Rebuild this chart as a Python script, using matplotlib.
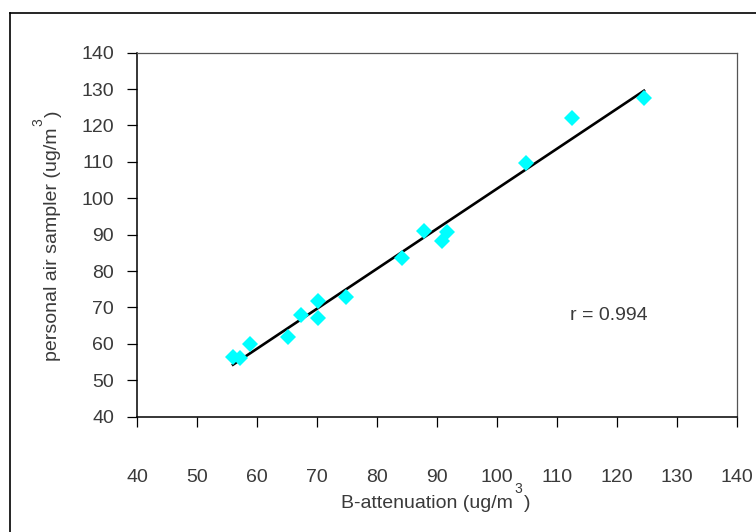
import numpy as np
import matplotlib
matplotlib.use("Agg")
import matplotlib.pyplot as plt
from matplotlib.lines import Line2D
from matplotlib.transforms import IdentityTransform

plt.rcParams["font.family"] = ["Liberation Sans", "DejaVu Sans"]

# paired readings: beta-attenuation monitor vs personal air sampler (ug/m3)
b_attenuation = [56.0, 57.2, 58.8, 65.2, 67.3, 70.1, 70.1, 74.8,
                 84.1, 87.8, 91.6, 90.8, 104.8, 112.5, 124.5]
personal_sampler = [56.3, 56.0, 59.9, 61.8, 67.9, 71.8, 67.2, 73.0,
                    83.7, 91.0, 90.7, 88.3, 109.8, 122.1, 127.5]
r_value = 0.994

x_ticks = list(range(40, 141, 10))
y_ticks = list(range(40, 141, 10))

text_color = "#3a3a3a"
W, H, DPI = 756, 532, 100

fig = plt.figure(figsize=(W / DPI, H / DPI), dpi=DPI)
ax = fig.add_axes([137 / W, 1 - 416.7 / H, 600 / W, 364 / H])

x = np.array(b_attenuation)
y = np.array(personal_sampler)

# least-squares trend line across the measured range
slope, intercept = np.polyfit(x, y, 1)
xl = np.array([x.min(), x.max()])
ax.plot(xl, slope * xl + intercept, color="black", lw=1.9, zorder=2)

ax.plot(x, y, linestyle="none", marker="D", markersize=8.3,
        color="#00ffff", markeredgewidth=0, zorder=3)

ax.text(112.2, 67.9, f"r = {r_value}", fontsize=14, color=text_color,
        va="center", ha="left")

ax.set_xlim(40, 140)
ax.set_ylim(40, 140)
ax.set_xticks(x_ticks)
ax.set_yticks(y_ticks)
ax.set_xticklabels([str(v) for v in x_ticks])
ax.set_yticklabels([str(v) for v in y_ticks])

for side in ("left", "bottom"):
    ax.spines[side].set_color("black")
    ax.spines[side].set_linewidth(1.1)
for side in ("top", "right"):
    ax.spines[side].set_color("#555555")
    ax.spines[side].set_linewidth(0.9)

ax.tick_params(axis="both", direction="out", length=7, width=0.9,
               color="black", labelsize=14, labelcolor=text_color)
ax.tick_params(axis="x", pad=31)
ax.tick_params(axis="y", pad=9.5)

renderer = fig.canvas.get_renderer()


def text_width(s, size):
    t = fig.text(0, 0, s, fontsize=size, transform=IdentityTransform())
    w = t.get_window_extent(renderer).width
    t.remove()
    return w


def unit_label(base, sup, tail, center, baseline, angle,
               size=14, sup_size=10, rise=15, gap=1.5):
    """Axis title with a high-set superscript, e.g. (ug/m3)."""
    th = np.deg2rad(angle)
    u = np.array([np.cos(th), np.sin(th)])      # along the text
    n = np.array([-np.sin(th), np.cos(th)])     # text "up"
    wb, ws, wt = text_width(base, size), text_width(sup, sup_size), text_width(tail, size)
    total = wb + gap + ws + gap + wt
    # center: position along the text direction; baseline: offset across it
    p0 = np.array(center, float) - total / 2 * u
    p0 = p0 + (np.dot(np.array(baseline, float) - p0, n)) * n
    kw = dict(color=text_color, rotation=angle, rotation_mode="anchor",
              ha="left", va="baseline", transform=IdentityTransform())
    fig.text(*p0, base, fontsize=size, **kw)
    fig.text(*(p0 + (wb + gap) * u + rise * n), sup, fontsize=sup_size, **kw)
    fig.text(*(p0 + (wb + gap + ws + gap) * u), tail, fontsize=size, **kw)


# pixel positions measured from the bottom-left corner
unit_label("B-attenuation (ug/m", "3", ")",
           center=(436, H - 500), baseline=(436, H - 508), angle=0)
unit_label("personal air sampler (ug/m", "3", ")",
           center=(50, H - 236), baseline=(57.5, H - 236), angle=90)

# outer frame of the chart area
fig.add_artist(Line2D([10 / W, 1.0], [1 - 13.3 / H, 1 - 13.3 / H],
                      transform=fig.transFigure, color="black", lw=1.2))
fig.add_artist(Line2D([10 / W, 10 / W], [0.0, 1 - 13.3 / H],
                      transform=fig.transFigure, color="black", lw=1.2))

fig.savefig("out.png", dpi=DPI)
